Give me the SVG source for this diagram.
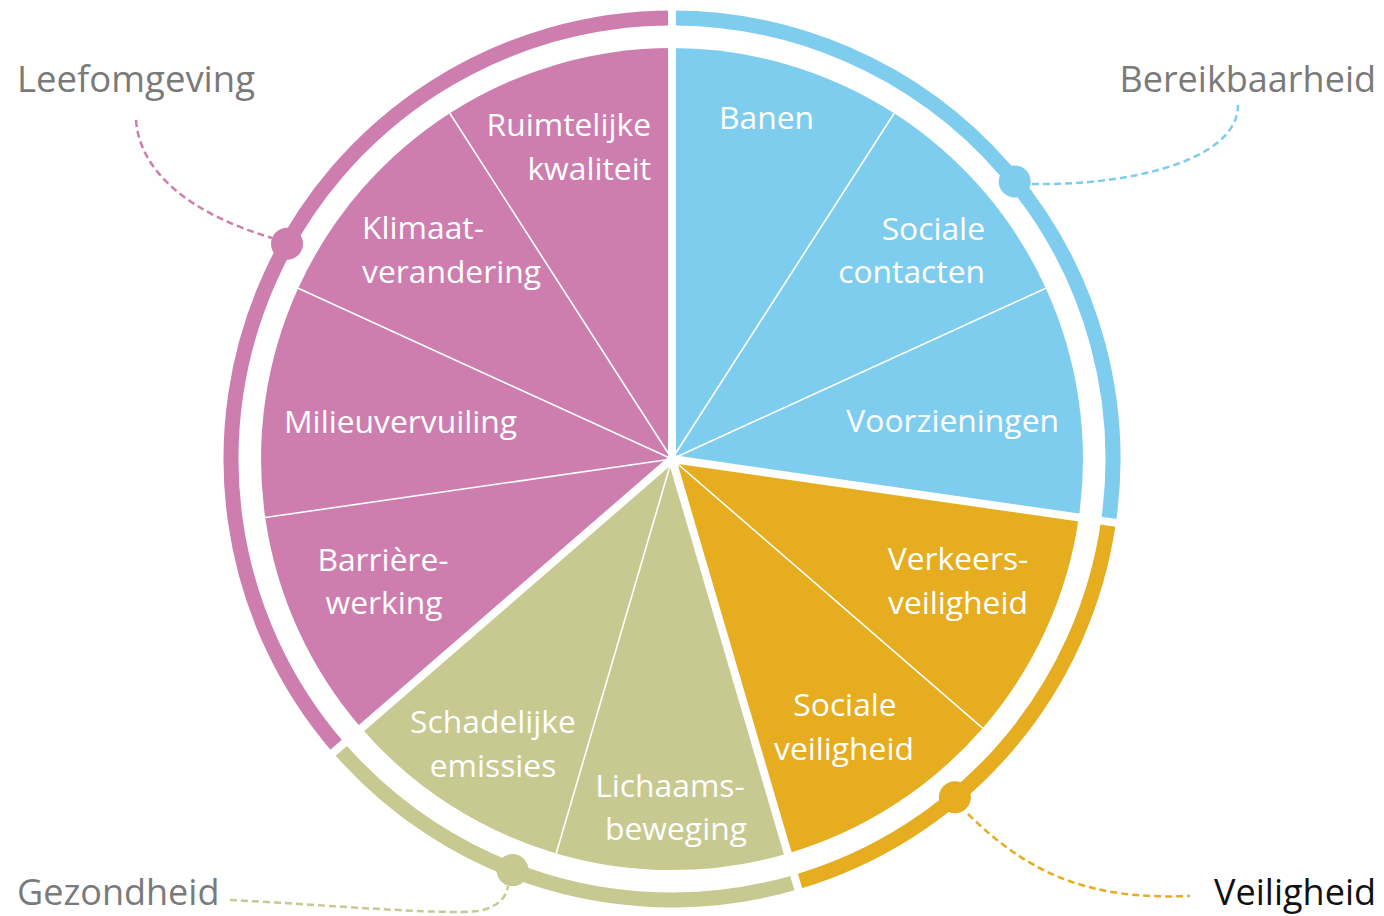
<svg xmlns="http://www.w3.org/2000/svg" width="1384" height="916" viewBox="0 0 1384 916">
<style>
.st{font-family:"Open Sans","Liberation Sans",sans-serif;font-size:31.8px;fill:#ffffff}
.gt{font-family:"Open Sans","Liberation Sans",sans-serif;font-size:36px;fill:#7a7a7a}
.thin{stroke:#ffffff;stroke-width:1.6}
.gap{stroke:#ffffff;stroke-width:8}
.ring{fill:none;stroke-width:15}
.lead{fill:none;stroke-width:2.5;stroke-dasharray:7 4}
.pink{fill:#CD7EAF}.blue{fill:#7FCDEE}.orange{fill:#E5AD1F}.green{fill:#C7C991}
.spink{stroke:#CD7EAF}.sblue{stroke:#7FCDEE}.sorange{stroke:#E5AD1F}.sgreen{stroke:#C7C991}
</style>
<rect width="1384" height="916" fill="#ffffff"/>
<g id="seg-banen"><path class="blue" d="M672,459 L672,48 A411,411 0 0 1 894.2,113.2 Z"/><text class="st" x="719" y="129">Banen</text></g>
<g id="seg-sociale-contacten"><path class="blue" d="M672,459 L894.2,113.2 A411,411 0 0 1 1045.8,288.3 Z"/><text class="st" text-anchor="end"><tspan x="985" y="240">Sociale</tspan><tspan x="985" y="283">contacten</tspan></text></g>
<g id="seg-voorzieningen"><path class="blue" d="M672,459 L1045.8,288.3 A411,411 0 0 1 1078.8,517.5 Z"/><text class="st" text-anchor="end" x="1059" y="432">Voorzieningen</text></g>
<g id="seg-verkeersveiligheid"><path class="orange" d="M672,459 L1078.8,517.5 A411,411 0 0 1 982.6,728.2 Z"/><text class="st" text-anchor="middle"><tspan x="958" y="570">Verkeers-</tspan><tspan x="958" y="614">veiligheid</tspan></text></g>
<g id="seg-sociale-veiligheid"><path class="orange" d="M672,459 L982.6,728.2 A411,411 0 0 1 787.8,853.4 Z"/><text class="st" text-anchor="middle"><tspan x="845" y="716">Sociale</tspan><tspan x="844" y="760">veiligheid</tspan></text></g>
<g id="seg-lichaamsbeweging"><path class="green" d="M672,459 L787.8,853.4 A411,411 0 0 1 556.2,853.4 Z"/><text class="st" text-anchor="middle"><tspan x="670" y="797">Lichaams-</tspan><tspan x="676" y="840">beweging</tspan></text></g>
<g id="seg-schadelijke-emissies"><path class="green" d="M672,459 L556.2,853.4 A411,411 0 0 1 361.4,728.2 Z"/><text class="st" text-anchor="middle"><tspan x="493" y="733">Schadelijke</tspan><tspan x="493" y="777">emissies</tspan></text></g>
<g id="seg-barrierewerking"><path class="pink" d="M672,459 L361.4,728.2 A411,411 0 0 1 265.2,517.5 Z"/><text class="st" text-anchor="middle"><tspan x="383" y="571">Barrière-</tspan><tspan x="384" y="614">werking</tspan></text></g>
<g id="seg-milieuvervuiling"><path class="pink" d="M672,459 L265.2,517.5 A411,411 0 0 1 298.2,288.3 Z"/><text class="st" x="284" y="433">Milieuvervuiling</text></g>
<g id="seg-klimaatverandering"><path class="pink" d="M672,459 L298.2,288.3 A411,411 0 0 1 449.8,113.2 Z"/><text class="st"><tspan x="362" y="239">Klimaat-</tspan><tspan x="362" y="283">verandering</tspan></text></g>
<g id="seg-ruimtelijke-kwaliteit"><path class="pink" d="M672,459 L449.8,113.2 A411,411 0 0 1 672,48 Z"/><text class="st" text-anchor="end"><tspan x="651" y="136">Ruimtelijke</tspan><tspan x="651" y="180">kwaliteit</tspan></text></g>
<g id="rings">
<path class="ring sblue" d="M672,18 A441,441 0 0 1 1108.5,521.8"/>
<path class="ring sorange" d="M1108.5,521.8 A441,441 0 0 1 796.2,882.1"/>
<path class="ring sgreen" d="M796.2,882.1 A441,441 0 0 1 338.7,747.8"/>
<path class="ring spink" d="M338.7,747.8 A441,441 0 0 1 672,18"/>
</g>
<g id="separators">
<line class="thin" x1="672" y1="459" x2="894.2" y2="113.2"/>
<line class="thin" x1="672" y1="459" x2="1045.8" y2="288.3"/>
<line class="thin" x1="672" y1="459" x2="982.6" y2="728.2"/>
<line class="thin" x1="672" y1="459" x2="556.2" y2="853.4"/>
<line class="thin" x1="672" y1="459" x2="265.2" y2="517.5"/>
<line class="thin" x1="672" y1="459" x2="298.2" y2="288.3"/>
<line class="thin" x1="672" y1="459" x2="449.8" y2="113.2"/>
<line class="gap" x1="672" y1="459" x2="672" y2="-11"/>
<line class="gap" x1="672" y1="459" x2="1137.2" y2="525.9"/>
<line class="gap" x1="672" y1="459" x2="804.4" y2="910"/>
<line class="gap" x1="672" y1="459" x2="316.8" y2="766.8"/>
</g>
<g id="connectors">
<path class="lead spink" d="M136,120 C140,175 195,215 272,238"/>
<path class="lead sblue" d="M1032,184 C1130,186 1238,160 1238,105"/>
<path class="lead sgreen" d="M230,900 C330,905 440,915 478,911 C498,907 506,898 508,886"/>
<path class="lead sorange" d="M968,814 C1030,875 1090,900 1190,896"/>
</g>
<g id="label-leefomgeving"><circle class="pink" cx="287" cy="243.8" r="16"/><text class="gt" x="17" y="92" style="font-size:36.5px">Leefomgeving</text></g>
<g id="label-bereikbaarheid"><circle class="blue" cx="1014.7" cy="181.5" r="16"/><text class="gt" text-anchor="end" x="1376" y="92">Bereikbaarheid</text></g>
<g id="label-gezondheid"><circle class="green" cx="512.5" cy="870.1" r="16"/><text class="gt" x="17" y="905">Gezondheid</text></g>
<g id="label-veiligheid"><circle class="orange" cx="954.9" cy="797.3" r="16"/><text class="gt" text-anchor="end" x="1376" y="905" style="fill:#111111">Veiligheid</text></g>
</svg>
